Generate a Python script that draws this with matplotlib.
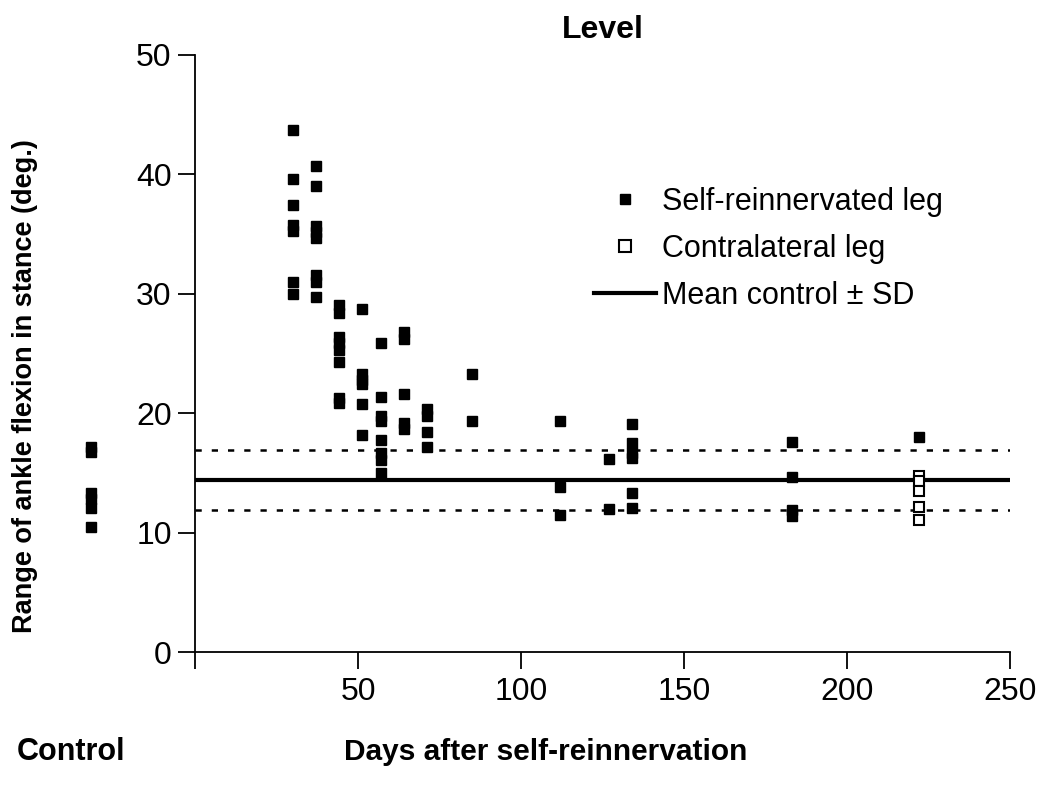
import matplotlib
matplotlib.use('Agg')
import matplotlib.pyplot as plt
import numpy as np

plt.rcParams['font.family'] = ['Liberation Sans', 'DejaVu Sans']

# self-reinnervated leg: days after self-reinnervation, range of ankle flexion (deg.)
self_days = [30, 30, 30, 30, 30, 30, 30,
             37, 37, 37, 37, 37, 37, 37, 37,
             44, 44, 44, 44, 44, 44, 44, 44,
             51, 51, 51, 51, 51, 51,
             57, 57, 57, 57, 57, 57, 57, 57,
             64, 64, 64, 64, 64,
             71, 71, 71, 71,
             85, 85,
             112, 112, 112,
             127, 127,
             134, 134, 134, 134, 134, 134,
             183, 183, 183, 183,
             222]
self_vals = [43.7, 39.6, 37.4, 35.8, 35.3, 31.0, 30.0,
             40.7, 39.0, 35.7, 35.2, 34.7, 31.6, 31.0, 29.7,
             29.1, 28.4, 26.4, 25.9, 25.3, 24.3, 21.3, 20.9,
             28.7, 23.3, 22.8, 22.5, 20.8, 18.2,
             25.9, 21.4, 19.8, 19.4, 17.8, 16.7, 16.1, 15.0,
             26.8, 26.2, 21.6, 19.2, 18.7,
             20.4, 19.8, 18.4, 17.2,
             23.3, 19.4,
             19.4, 13.8, 11.5,
             16.2, 12.0,
             19.1, 17.5, 16.7, 16.3, 13.3, 12.1,
             17.6, 14.7, 11.9, 11.4,
             18.0]

# contralateral leg
contra_days = [222, 222, 222, 222, 222]
contra_vals = [14.8, 14.3, 13.5, 12.2, 11.1]

# control animals (drawn left of the axis)
control_x = -32
control_vals = [17.2, 16.8, 13.3, 12.8, 12.1, 10.5]

mean_control = 14.4
sd_control = 2.5

fig = plt.figure(figsize=(10.5, 7.85), dpi=100)
ax = fig.add_axes([0.186, 0.169, 0.776, 0.761])

ax.plot(self_days, self_vals, 's', color='black', markersize=6.5,
        label='Self-reinnervated leg', clip_on=False)
ax.plot(contra_days, contra_vals, 's', markerfacecolor='white',
        markeredgecolor='black', markeredgewidth=1.5, markersize=7.5,
        label='Contralateral leg', zorder=5)
ax.plot([control_x] * len(control_vals), control_vals, 's', color='black',
        markersize=6.5, clip_on=False)

ax.plot([0, 250], [mean_control, mean_control], color='black', linewidth=3,
        label=u'Mean control \u00b1 SD')
for v in [mean_control + sd_control, mean_control - sd_control]:
    ax.plot([0, 250], [v, v], color='black', linewidth=1.8,
            linestyle=(0, (2.5, 4)))

ax.set_xlim(0, 250)
ax.set_ylim(0, 50)
ax.set_xticks([0, 50, 100, 150, 200, 250])
ax.set_xticklabels(['', '50', '100', '150', '200', '250'])
ax.set_yticks(np.arange(0, 51, 10))
ax.tick_params(axis='both', direction='out', length=12, width=1.3,
               labelsize=23)
ax.tick_params(axis='x', pad=6)
ax.tick_params(axis='y', pad=5)
ax.spines['top'].set_visible(False)
ax.spines['right'].set_visible(False)
ax.spines['left'].set_linewidth(1.3)
ax.spines['bottom'].set_linewidth(1.3)

ax.set_title('Level', fontsize=23, fontweight='bold', pad=12)
fig.text(0.024, 0.508, 'Range of ankle flexion in stance (deg.)', fontsize=19.5,
         fontweight='bold', rotation=90, ha='center', va='center')
fig.text(0.52, 0.042, 'Days after self-reinnervation', fontsize=21.5,
         fontweight='bold', ha='center', va='center')
fig.text(0.068, 0.042, 'Control', fontsize=22, fontweight='bold',
         ha='center', va='center')

leg = ax.legend(loc='upper left', bbox_to_anchor=(0.455, 0.825), frameon=False,
                fontsize=22, handlelength=2.05, handletextpad=0.2,
                labelspacing=0.55, markerscale=1.2)

fig.savefig('out.png', dpi=100)
